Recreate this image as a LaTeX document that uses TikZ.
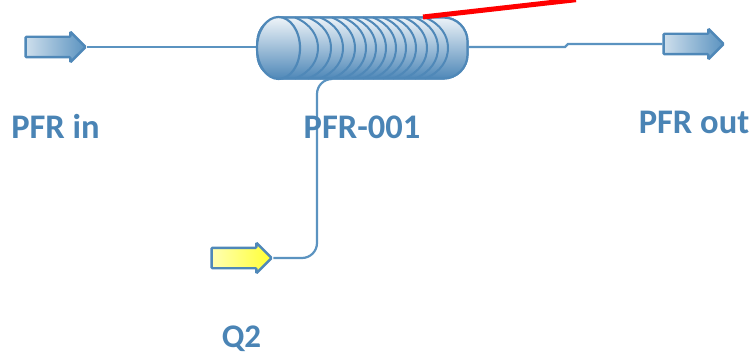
\documentclass[tikz,border=0pt]{standalone}
\usepackage{fontspec}
\setmainfont{Carlito}
\usetikzlibrary{shapes.arrows,shapes.geometric}
\definecolor{linec}{HTML}{5B93C0}
\definecolor{edgec}{HTML}{4F88B8}
\definecolor{textc}{HTML}{4A84B5}
\tikzset{
  port/.style={single arrow,draw=edgec,line width=2.4pt,rounded corners=1pt,inner ysep=9pt,inner xsep=0pt,
    minimum height=60pt,minimum width=28pt,single arrow head extend=5pt,
    single arrow head indent=0pt,left color=linec!30!white,right color=linec},
  yport/.style={single arrow,draw=edgec,line width=2.4pt,rounded corners=1pt,inner ysep=9pt,inner xsep=0pt,
    minimum height=60pt,minimum width=28pt,single arrow head extend=5pt,
    single arrow head indent=0pt,left color=yellow!30!white,right color=yellow!80!white},
  pipe/.style={draw=linec,line width=2.2pt},
  coil/.style={draw=edgec,line width=2pt},
  lab/.style={font=\bfseries\fontsize{34.5}{37}\selectfont,text=textc,inner sep=0pt,anchor=base},
  body/.style={rectangle,draw=edgec,line width=2.2pt,rounded corners=24pt,minimum width=210pt,
    minimum height=61pt,inner sep=0pt,top color=linec!12!white,bottom color=edgec},
  capshade/.style={draw=edgec,line width=2.2pt,top color=linec!10!white,bottom color=edgec},
}
\begin{document}
\begin{tikzpicture}[x=1pt,y=-1pt]
\useasboundingbox (0,0) rectangle (751,355);
\clip (0,0) rectangle (751,355);
\node[port] (in) at (50.5,47) {};
\node[port] (out) at (688.5,44) {};
\node[yport] (q) at (236.5,258) {};
\node[body] (pfr) at (362.5,48) {};
\coordinate (inj) at (330,79);
\coordinate (kinka) at (565,47);
\coordinate (kinkb) at (568,44);
\coordinate (redend) at (576,-0.3);
\coordinate (redstart) at (423,17);
\draw[pipe] (in.tip) -- (pfr.west |- in.tip);
\draw[pipe] (pfr.east |- 0,47) -- (kinka) -- (kinkb) -- (out.west);
\draw[pipe,rounded corners=15pt] (q.tip) -- (317,258) -- (317,79) -- (inj);
% body again, over the pipe end
\node[body] (pfrtop) at (pfr) {};
\foreach \xr in {318,331,343,355,366,376,386,396,406,416,427,438,448}{
  \draw[coil] (\xr-23,17.5) .. controls (\xr-7,24) and (\xr,36) .. (\xr,48)
     .. controls (\xr,60) and (\xr-7,72) .. (\xr-23,78.5);
}
\node[ellipse,capshade,minimum width=43pt,minimum height=62pt,inner sep=0pt] (cap) at (278.5,48) {};
\draw[red,line width=5pt] (redstart) -- (redend);
\node[lab] (t1) at (55.5,139) {PFR in};
\node[lab] (t2) at (362,139) {PFR-001};
\node[lab] (t3) at (694,134) {PFR out};
\node[lab,font=\bfseries\fontsize{33}{35}\selectfont] (t4) at (241.5,347) {Q2};
\end{tikzpicture}
\end{document}
